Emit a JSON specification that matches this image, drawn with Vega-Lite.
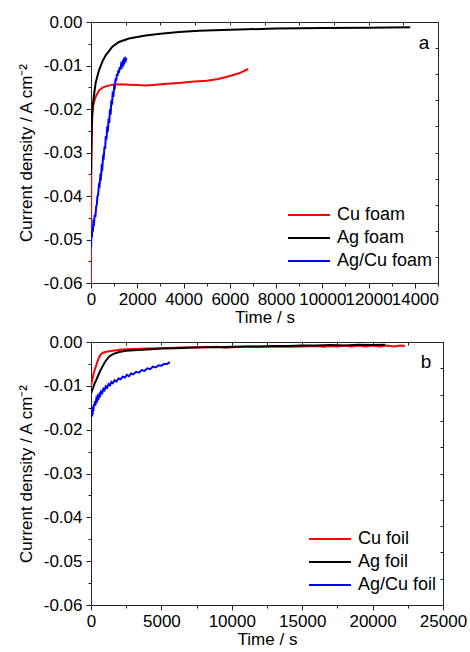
{
  "$schema": "https://vega.github.io/schema/vega-lite/v6.json",
  "padding": {"left": 17, "top": 13, "right": 5, "bottom": 0},
  "spacing": 8,
  "resolve": {"scale": {"color": "independent"}, "legend": {"color": "independent"}},
  "config": {
    "font": "Liberation Sans",
    "view": {"stroke": null},
    "axis": {"grid": false, "domainColor": "#222222", "tickColor": "#222222", "labelColor": "#000000", "titleColor": "#000000", "labelFontSize": 17, "titleFontSize": 17, "titleFontWeight": "normal", "domainWidth": 1, "tickWidth": 1, "labelOverlap": false, "labelFlush": false},
    "legend": {"orient": "none", "title": null, "symbolType": "M-3,0H3", "symbolSize": 196, "symbolStrokeWidth": 2, "labelFontSize": 18, "labelColor": "#000000", "labelOffset": 19, "rowPadding": 5}
  },
  "datasets": {
    "foam": [
      {"s": "Cu foam", "t": 0, "j": -0.06},
      {"s": "Cu foam", "t": 5, "j": -0.045},
      {"s": "Cu foam", "t": 15, "j": -0.033},
      {"s": "Cu foam", "t": 30, "j": -0.027},
      {"s": "Cu foam", "t": 60, "j": -0.021},
      {"s": "Cu foam", "t": 100, "j": -0.019},
      {"s": "Cu foam", "t": 200, "j": -0.0172},
      {"s": "Cu foam", "t": 350, "j": -0.0157},
      {"s": "Cu foam", "t": 500, "j": -0.0151},
      {"s": "Cu foam", "t": 640, "j": -0.0148},
      {"s": "Cu foam", "t": 920, "j": -0.0144},
      {"s": "Cu foam", "t": 1300, "j": -0.0143},
      {"s": "Cu foam", "t": 1640, "j": -0.0144},
      {"s": "Cu foam", "t": 2000, "j": -0.0145},
      {"s": "Cu foam", "t": 2360, "j": -0.0146},
      {"s": "Cu foam", "t": 2800, "j": -0.0144},
      {"s": "Cu foam", "t": 3300, "j": -0.0142},
      {"s": "Cu foam", "t": 3800, "j": -0.014},
      {"s": "Cu foam", "t": 4460, "j": -0.0137},
      {"s": "Cu foam", "t": 5000, "j": -0.0135},
      {"s": "Cu foam", "t": 5500, "j": -0.0131},
      {"s": "Cu foam", "t": 6000, "j": -0.0124},
      {"s": "Cu foam", "t": 6400, "j": -0.0118},
      {"s": "Cu foam", "t": 6800, "j": -0.0108},
      {"s": "Ag foam", "t": 0, "j": -0.035},
      {"s": "Ag foam", "t": 10, "j": -0.03},
      {"s": "Ag foam", "t": 25, "j": -0.025},
      {"s": "Ag foam", "t": 50, "j": -0.021},
      {"s": "Ag foam", "t": 100, "j": -0.018},
      {"s": "Ag foam", "t": 200, "j": -0.014},
      {"s": "Ag foam", "t": 350, "j": -0.011},
      {"s": "Ag foam", "t": 500, "j": -0.009},
      {"s": "Ag foam", "t": 640, "j": -0.0076},
      {"s": "Ag foam", "t": 800, "j": -0.0065},
      {"s": "Ag foam", "t": 920, "j": -0.0057},
      {"s": "Ag foam", "t": 1210, "j": -0.0046},
      {"s": "Ag foam", "t": 1640, "j": -0.0038},
      {"s": "Ag foam", "t": 2360, "j": -0.0031},
      {"s": "Ag foam", "t": 3000, "j": -0.0027},
      {"s": "Ag foam", "t": 3800, "j": -0.0023},
      {"s": "Ag foam", "t": 4670, "j": -0.002},
      {"s": "Ag foam", "t": 6000, "j": -0.0018},
      {"s": "Ag foam", "t": 8000, "j": -0.0015},
      {"s": "Ag foam", "t": 10000, "j": -0.0014},
      {"s": "Ag foam", "t": 12000, "j": -0.0013},
      {"s": "Ag foam", "t": 13800, "j": -0.0012},
      {"s": "Ag/Cu foam", "t": 0, "j": -0.052},
      {"s": "Ag/Cu foam", "t": 20, "j": -0.048},
      {"s": "Ag/Cu foam", "t": 40, "j": -0.0495},
      {"s": "Ag/Cu foam", "t": 60, "j": -0.047},
      {"s": "Ag/Cu foam", "t": 80, "j": -0.0482},
      {"s": "Ag/Cu foam", "t": 100, "j": -0.046},
      {"s": "Ag/Cu foam", "t": 130, "j": -0.0463},
      {"s": "Ag/Cu foam", "t": 160, "j": -0.0443},
      {"s": "Ag/Cu foam", "t": 190, "j": -0.0448},
      {"s": "Ag/Cu foam", "t": 220, "j": -0.0425},
      {"s": "Ag/Cu foam", "t": 250, "j": -0.042},
      {"s": "Ag/Cu foam", "t": 280, "j": -0.04},
      {"s": "Ag/Cu foam", "t": 310, "j": -0.0398},
      {"s": "Ag/Cu foam", "t": 340, "j": -0.0375},
      {"s": "Ag/Cu foam", "t": 370, "j": -0.0377},
      {"s": "Ag/Cu foam", "t": 400, "j": -0.0355},
      {"s": "Ag/Cu foam", "t": 430, "j": -0.0358},
      {"s": "Ag/Cu foam", "t": 460, "j": -0.0333},
      {"s": "Ag/Cu foam", "t": 490, "j": -0.0336},
      {"s": "Ag/Cu foam", "t": 520, "j": -0.031},
      {"s": "Ag/Cu foam", "t": 550, "j": -0.0312},
      {"s": "Ag/Cu foam", "t": 580, "j": -0.0287},
      {"s": "Ag/Cu foam", "t": 610, "j": -0.0292},
      {"s": "Ag/Cu foam", "t": 640, "j": -0.0262},
      {"s": "Ag/Cu foam", "t": 670, "j": -0.027},
      {"s": "Ag/Cu foam", "t": 700, "j": -0.024},
      {"s": "Ag/Cu foam", "t": 730, "j": -0.0252},
      {"s": "Ag/Cu foam", "t": 760, "j": -0.0222},
      {"s": "Ag/Cu foam", "t": 790, "j": -0.0232},
      {"s": "Ag/Cu foam", "t": 820, "j": -0.02},
      {"s": "Ag/Cu foam", "t": 850, "j": -0.0213},
      {"s": "Ag/Cu foam", "t": 880, "j": -0.018},
      {"s": "Ag/Cu foam", "t": 910, "j": -0.019},
      {"s": "Ag/Cu foam", "t": 940, "j": -0.016},
      {"s": "Ag/Cu foam", "t": 970, "j": -0.0172},
      {"s": "Ag/Cu foam", "t": 1000, "j": -0.0148},
      {"s": "Ag/Cu foam", "t": 1030, "j": -0.015},
      {"s": "Ag/Cu foam", "t": 1060, "j": -0.013},
      {"s": "Ag/Cu foam", "t": 1090, "j": -0.0136},
      {"s": "Ag/Cu foam", "t": 1120, "j": -0.012},
      {"s": "Ag/Cu foam", "t": 1150, "j": -0.0124},
      {"s": "Ag/Cu foam", "t": 1180, "j": -0.0111},
      {"s": "Ag/Cu foam", "t": 1210, "j": -0.0117},
      {"s": "Ag/Cu foam", "t": 1240, "j": -0.0104},
      {"s": "Ag/Cu foam", "t": 1270, "j": -0.0109},
      {"s": "Ag/Cu foam", "t": 1300, "j": -0.0098},
      {"s": "Ag/Cu foam", "t": 1330, "j": -0.0102},
      {"s": "Ag/Cu foam", "t": 1360, "j": -0.0093},
      {"s": "Ag/Cu foam", "t": 1390, "j": -0.0097},
      {"s": "Ag/Cu foam", "t": 1420, "j": -0.0088},
      {"s": "Ag/Cu foam", "t": 1450, "j": -0.0092},
      {"s": "Ag/Cu foam", "t": 1480, "j": -0.0084},
      {"s": "Ag/Cu foam", "t": 1510, "j": -0.0087},
      {"s": "Ag/Cu foam", "t": 1530, "j": -0.0082}
    ],
    "foil": [
      {"s": "Cu foil", "t": 0, "j": -0.01},
      {"s": "Cu foil", "t": 60, "j": -0.009},
      {"s": "Cu foil", "t": 120, "j": -0.0081},
      {"s": "Cu foil", "t": 200, "j": -0.007},
      {"s": "Cu foil", "t": 280, "j": -0.0062},
      {"s": "Cu foil", "t": 355, "j": -0.0055},
      {"s": "Cu foil", "t": 450, "j": -0.0045},
      {"s": "Cu foil", "t": 590, "j": -0.0034},
      {"s": "Cu foil", "t": 700, "j": -0.0028},
      {"s": "Cu foil", "t": 830, "j": -0.0025},
      {"s": "Cu foil", "t": 1000, "j": -0.0023},
      {"s": "Cu foil", "t": 1300, "j": -0.0021},
      {"s": "Cu foil", "t": 1800, "j": -0.0019},
      {"s": "Cu foil", "t": 2250, "j": -0.0017},
      {"s": "Cu foil", "t": 3000, "j": -0.0016},
      {"s": "Cu foil", "t": 4000, "j": -0.0015},
      {"s": "Cu foil", "t": 5000, "j": -0.0014},
      {"s": "Cu foil", "t": 6000, "j": -0.0013},
      {"s": "Cu foil", "t": 7000, "j": -0.0012},
      {"s": "Cu foil", "t": 8000, "j": -0.0012},
      {"s": "Cu foil", "t": 9000, "j": -0.0011},
      {"s": "Cu foil", "t": 9500, "j": -0.0013},
      {"s": "Cu foil", "t": 10000, "j": -0.0012},
      {"s": "Cu foil", "t": 11000, "j": -0.0011},
      {"s": "Cu foil", "t": 12000, "j": -0.0011},
      {"s": "Cu foil", "t": 13000, "j": -0.001},
      {"s": "Cu foil", "t": 14000, "j": -0.0011},
      {"s": "Cu foil", "t": 15000, "j": -0.001},
      {"s": "Cu foil", "t": 16000, "j": -0.0009},
      {"s": "Cu foil", "t": 16500, "j": -0.0011},
      {"s": "Cu foil", "t": 17000, "j": -0.0009},
      {"s": "Cu foil", "t": 17500, "j": -0.001},
      {"s": "Cu foil", "t": 18000, "j": -0.0008},
      {"s": "Cu foil", "t": 18500, "j": -0.001},
      {"s": "Cu foil", "t": 19000, "j": -0.0008},
      {"s": "Cu foil", "t": 19500, "j": -0.001},
      {"s": "Cu foil", "t": 20000, "j": -0.0008},
      {"s": "Cu foil", "t": 20500, "j": -0.001},
      {"s": "Cu foil", "t": 21000, "j": -0.0008},
      {"s": "Cu foil", "t": 21500, "j": -0.001},
      {"s": "Cu foil", "t": 22000, "j": -0.0008},
      {"s": "Cu foil", "t": 22300, "j": -0.0009},
      {"s": "Ag foil", "t": 0, "j": -0.0118},
      {"s": "Ag foil", "t": 60, "j": -0.0112},
      {"s": "Ag foil", "t": 150, "j": -0.0105},
      {"s": "Ag foil", "t": 250, "j": -0.0095},
      {"s": "Ag foil", "t": 355, "j": -0.0088},
      {"s": "Ag foil", "t": 500, "j": -0.0077},
      {"s": "Ag foil", "t": 650, "j": -0.0066},
      {"s": "Ag foil", "t": 830, "j": -0.0055},
      {"s": "Ag foil", "t": 1000, "j": -0.0045},
      {"s": "Ag foil", "t": 1300, "j": -0.0033},
      {"s": "Ag foil", "t": 1600, "j": -0.0027},
      {"s": "Ag foil", "t": 2000, "j": -0.0023},
      {"s": "Ag foil", "t": 2500, "j": -0.002},
      {"s": "Ag foil", "t": 3000, "j": -0.0019},
      {"s": "Ag foil", "t": 4000, "j": -0.0017},
      {"s": "Ag foil", "t": 5000, "j": -0.0015},
      {"s": "Ag foil", "t": 6000, "j": -0.0014},
      {"s": "Ag foil", "t": 7000, "j": -0.0013},
      {"s": "Ag foil", "t": 8000, "j": -0.0012},
      {"s": "Ag foil", "t": 9000, "j": -0.0012},
      {"s": "Ag foil", "t": 10000, "j": -0.0011},
      {"s": "Ag foil", "t": 11000, "j": -0.001},
      {"s": "Ag foil", "t": 12000, "j": -0.001},
      {"s": "Ag foil", "t": 13000, "j": -0.0009},
      {"s": "Ag foil", "t": 14000, "j": -0.0009},
      {"s": "Ag foil", "t": 15000, "j": -0.0008},
      {"s": "Ag foil", "t": 16000, "j": -0.0008},
      {"s": "Ag foil", "t": 17000, "j": -0.0007},
      {"s": "Ag foil", "t": 18000, "j": -0.0008},
      {"s": "Ag foil", "t": 19000, "j": -0.0006},
      {"s": "Ag foil", "t": 20000, "j": -0.0007},
      {"s": "Ag foil", "t": 20900, "j": -0.0006},
      {"s": "Ag/Cu foil", "t": 50, "j": -0.015},
      {"s": "Ag/Cu foil", "t": 70, "j": -0.017},
      {"s": "Ag/Cu foil", "t": 90, "j": -0.0152},
      {"s": "Ag/Cu foil", "t": 110, "j": -0.0166},
      {"s": "Ag/Cu foil", "t": 140, "j": -0.0148},
      {"s": "Ag/Cu foil", "t": 170, "j": -0.0158},
      {"s": "Ag/Cu foil", "t": 200, "j": -0.0142},
      {"s": "Ag/Cu foil", "t": 240, "j": -0.0146},
      {"s": "Ag/Cu foil", "t": 280, "j": -0.0135},
      {"s": "Ag/Cu foil", "t": 330, "j": -0.0139},
      {"s": "Ag/Cu foil", "t": 380, "j": -0.0129},
      {"s": "Ag/Cu foil", "t": 430, "j": -0.0133},
      {"s": "Ag/Cu foil", "t": 480, "j": -0.0124},
      {"s": "Ag/Cu foil", "t": 540, "j": -0.0128},
      {"s": "Ag/Cu foil", "t": 600, "j": -0.0119},
      {"s": "Ag/Cu foil", "t": 660, "j": -0.0122},
      {"s": "Ag/Cu foil", "t": 720, "j": -0.0113},
      {"s": "Ag/Cu foil", "t": 800, "j": -0.0116},
      {"s": "Ag/Cu foil", "t": 880, "j": -0.0107},
      {"s": "Ag/Cu foil", "t": 960, "j": -0.011},
      {"s": "Ag/Cu foil", "t": 1050, "j": -0.0101},
      {"s": "Ag/Cu foil", "t": 1150, "j": -0.0104},
      {"s": "Ag/Cu foil", "t": 1250, "j": -0.0096},
      {"s": "Ag/Cu foil", "t": 1350, "j": -0.0099},
      {"s": "Ag/Cu foil", "t": 1450, "j": -0.0091},
      {"s": "Ag/Cu foil", "t": 1560, "j": -0.0094},
      {"s": "Ag/Cu foil", "t": 1680, "j": -0.0087},
      {"s": "Ag/Cu foil", "t": 1800, "j": -0.009},
      {"s": "Ag/Cu foil", "t": 1950, "j": -0.0083},
      {"s": "Ag/Cu foil", "t": 2100, "j": -0.0085},
      {"s": "Ag/Cu foil", "t": 2250, "j": -0.0079},
      {"s": "Ag/Cu foil", "t": 2400, "j": -0.0081},
      {"s": "Ag/Cu foil", "t": 2550, "j": -0.0075},
      {"s": "Ag/Cu foil", "t": 2700, "j": -0.0078},
      {"s": "Ag/Cu foil", "t": 2850, "j": -0.0072},
      {"s": "Ag/Cu foil", "t": 3000, "j": -0.0074},
      {"s": "Ag/Cu foil", "t": 3200, "j": -0.0068},
      {"s": "Ag/Cu foil", "t": 3400, "j": -0.007},
      {"s": "Ag/Cu foil", "t": 3600, "j": -0.0064},
      {"s": "Ag/Cu foil", "t": 3800, "j": -0.0066},
      {"s": "Ag/Cu foil", "t": 4000, "j": -0.006},
      {"s": "Ag/Cu foil", "t": 4200, "j": -0.0062},
      {"s": "Ag/Cu foil", "t": 4400, "j": -0.0056},
      {"s": "Ag/Cu foil", "t": 4600, "j": -0.0058},
      {"s": "Ag/Cu foil", "t": 4800, "j": -0.0053},
      {"s": "Ag/Cu foil", "t": 5000, "j": -0.0054},
      {"s": "Ag/Cu foil", "t": 5200, "j": -0.005},
      {"s": "Ag/Cu foil", "t": 5400, "j": -0.005},
      {"s": "Ag/Cu foil", "t": 5600, "j": -0.0046}
    ]
  },
  "vconcat": [
    {
      "width": 347,
      "height": 261,
      "resolve": {"axis": {"x": "independent", "y": "independent"}},
      "layer": [
        {
          "data": {"name": "foam"},
          "mark": {"type": "line", "strokeWidth": 2, "clip": true},
          "encoding": {
            "x": {"field": "t", "type": "quantitative", "scale": {"domain": [0, 15000], "nice": false},
              "axis": {"orient": "bottom", "title": "Time / s", "format": "d", "values": [0, 1000, 2000, 3000, 4000, 5000, 6000, 7000, 8000, 9000, 10000, 11000, 12000, 13000, 14000, 15000],
                "labelExpr": "datum.value % 2000 === 0 ? datum.label : ''",
                "tickSize": {"condition": {"test": "datum.value % 2000 === 0", "value": 5}, "value": 3},
                "labelPadding": 3, "titlePadding": 2}},
            "y": {"field": "j", "type": "quantitative", "scale": {"domain": [-0.06, 0], "nice": false, "zero": false},
              "axis": {"orient": "left", "title": "Current density / A cm⁻²", "format": ".2f", "values": [-0.06, -0.055, -0.05, -0.045, -0.04, -0.035, -0.03, -0.025, -0.02, -0.015, -0.01, -0.005, 0],
                "labelExpr": "abs(round(datum.value*200)) % 2 === 0 ? replace(datum.label, '−', '-') : ''",
                "tickSize": {"condition": {"test": "abs(round(datum.value*200)) % 2 === 0", "value": 5}, "value": 3},
                "labelPadding": 4, "titlePadding": 8}},
            "color": {"field": "s", "type": "nominal", "scale": {"domain": ["Cu foam", "Ag foam", "Ag/Cu foam"], "range": ["#ff0000", "#000000", "#0000ff"]},
              "legend": {"legendX": 209, "legendY": 184}}
          }
        },
        {
          "data": {"values": [{"label": "a"}]},
          "mark": {"type": "text", "fontSize": 19, "align": "center", "baseline": "alphabetic", "color": "#000000"},
          "encoding": {
            "text": {"field": "label"},
            "x": {"datum": 14400, "type": "quantitative", "axis": {"orient": "top", "title": null, "labels": false, "tickSize": -3, "values": [0, 1500, 3000, 4500, 6000, 7500, 9000, 10500, 12000, 13500, 15000]}},
            "y": {"datum": -0.0062, "type": "quantitative", "axis": {"orient": "right", "title": null, "labels": false, "tickSize": -3, "values": [-0.06, -0.054, -0.048, -0.042, -0.036, -0.03, -0.024, -0.018, -0.012, -0.006, 0]}}
          }
        }
      ]
    },
    {
      "width": 352,
      "height": 263,
      "resolve": {"axis": {"x": "independent", "y": "independent"}},
      "layer": [
        {
          "data": {"name": "foil"},
          "mark": {"type": "line", "strokeWidth": 2, "clip": true},
          "encoding": {
            "x": {"field": "t", "type": "quantitative", "scale": {"domain": [0, 25000], "nice": false},
              "axis": {"orient": "bottom", "title": "Time / s", "format": "d", "values": [0, 2500, 5000, 7500, 10000, 12500, 15000, 17500, 20000, 22500, 25000],
                "labelExpr": "datum.value % 5000 === 0 ? datum.label : ''",
                "tickSize": {"condition": {"test": "datum.value % 5000 === 0", "value": 5}, "value": 3},
                "labelPadding": 3, "titlePadding": 2}},
            "y": {"field": "j", "type": "quantitative", "scale": {"domain": [-0.06, 0], "nice": false, "zero": false},
              "axis": {"orient": "left", "title": "Current density / A cm⁻²", "format": ".2f", "values": [-0.06, -0.055, -0.05, -0.045, -0.04, -0.035, -0.03, -0.025, -0.02, -0.015, -0.01, -0.005, 0],
                "labelExpr": "abs(round(datum.value*200)) % 2 === 0 ? replace(datum.label, '−', '-') : ''",
                "tickSize": {"condition": {"test": "abs(round(datum.value*200)) % 2 === 0", "value": 5}, "value": 3},
                "labelPadding": 4, "titlePadding": 8}},
            "color": {"field": "s", "type": "nominal", "scale": {"domain": ["Cu foil", "Ag foil", "Ag/Cu foil"], "range": ["#ff0000", "#000000", "#0000ff"]},
              "legend": {"legendX": 230, "legendY": 188}}
          }
        },
        {
          "data": {"values": [{"label": "b"}]},
          "mark": {"type": "text", "fontSize": 19, "align": "center", "baseline": "alphabetic", "color": "#000000"},
          "encoding": {
            "text": {"field": "label"},
            "x": {"datum": 23800, "type": "quantitative", "axis": {"orient": "top", "title": null, "labels": false, "tickSize": -3, "values": [0, 2500, 5000, 7500, 10000, 12500, 15000, 17500, 20000, 22500, 25000]}},
            "y": {"datum": -0.0059, "type": "quantitative", "axis": {"orient": "right", "title": null, "labels": false, "tickSize": -3, "values": [-0.06, -0.054, -0.048, -0.042, -0.036, -0.03, -0.024, -0.018, -0.012, -0.006, 0]}}
          }
        }
      ]
    }
  ]
}
